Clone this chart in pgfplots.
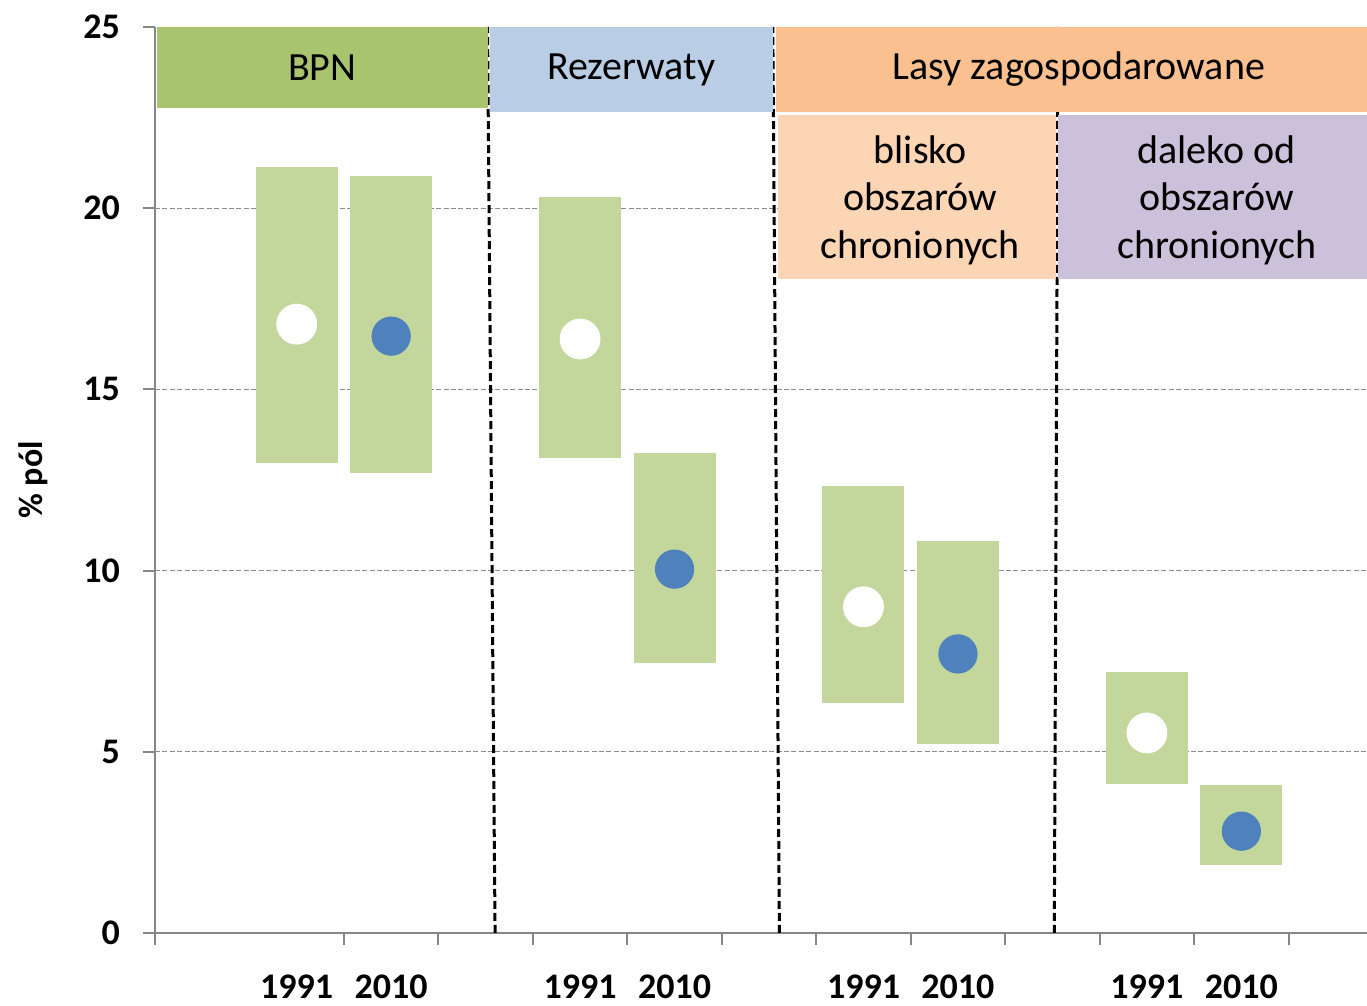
\documentclass[border=0pt]{standalone}
\usepackage{fontspec}
\setmainfont{Carlito}
\usepackage{pgfplots}
\pgfplotsset{compat=1.18}
\usepackage{pgfplotstable}

\definecolor{axgray}{HTML}{868686}
\definecolor{gridgray}{HTML}{8C8C8C}
\definecolor{bpngreen}{HTML}{A9C46F}
\definecolor{rezblue}{HTML}{B9CDE5}
\definecolor{lasorange}{HTML}{FAC08F}
\definecolor{blisko}{HTML}{FCD5B5}
\definecolor{daleko}{HTML}{CCC1DA}
\definecolor{boxgreen}{HTML}{C3D69B}
\definecolor{dotblue}{HTML}{4F81BD}

% 1991: x, mean, range low/high
\pgfplotstableread{
x mid lo hi
1.5 16.80 12.97 21.14
4.5 16.39 13.11 20.31
7.5 9.00 6.35 12.33
10.5 5.52 4.11 7.20
}\tabA
% 2010
\pgfplotstableread{
x mid lo hi
2.5 16.47 12.69 20.89
5.5 10.04 7.45 13.25
8.5 7.70 5.22 10.82
11.5 2.81 1.88 4.08
}\tabB

\newcommand{\hdr}{\fontsize{20}{23.75}\selectfont}

\begin{document}
\begin{tikzpicture}
\begin{axis}[
    at={(0,0)}, anchor=south west,
    width=606pt, height=453pt, scale only axis,
    xmin=0, xmax=12.83, ymin=0, ymax=25,
    axis lines*=left,
    axis line style={axgray, line width=1pt},
    tick style={axgray, line width=1pt},
    tick align=outside,
    major tick length=6pt,
    xtick={0,2,3,4,5,6,7,8,9,10,11,12},
    xticklabels={},
    extra x ticks={1.5,2.5,4.5,5.5,7.5,8.5,10.5,11.5},
    extra x tick labels={1991,2010,1991,2010,1991,2010,1991,2010},
    extra x tick style={
        major tick length=0pt,
        tick style={draw=none},
        grid=none,
        xticklabel style={font=\fontsize{18}{20}\selectfont\bfseries, yshift=-17.5pt}
    },
    ytick={0,5,10,15,20,25},
    yticklabel style={font=\fontsize{18}{20}\selectfont\bfseries, xshift=-8pt},
    extra y ticks={5,10,15,20},
    extra y tick labels={},
    extra y tick style={grid=major},
    /pgf/number format/assume math mode=true,
    grid style={gridgray, line width=0.6pt, dash pattern=on 2.5pt off 1.2pt},
    ylabel={\% pól},
    every axis y label/.style={at={(axis description cs:0,0.5)}, xshift=-61pt,
        rotate=90, anchor=center, font=\fontsize{17}{20}\selectfont\bfseries},
]
% separators
\addplot[black, line width=1.5pt, dash pattern=on 4pt off 2pt, forget plot] coordinates {(3.60,0) (3.52,25)};
\addplot[black, line width=1.5pt, dash pattern=on 4pt off 2pt, forget plot] coordinates {(6.61,0) (6.54,25)};
\addplot[black, line width=1.5pt, dash pattern=on 4pt off 2pt, forget plot] coordinates {(9.52,0) (9.56,25)};

% headers
\fill[bpngreen] (axis cs:0.02,22.76) rectangle (axis cs:3.52,25);
\fill[rezblue] (axis cs:3.55,22.65) rectangle (axis cs:6.54,25);
\fill[lasorange] (axis cs:6.57,22.65) rectangle (axis cs:12.83,25);
\fill[blisko] (axis cs:6.59,18.05) rectangle (axis cs:9.54,22.57);
\fill[daleko] (axis cs:9.56,18.05) rectangle (axis cs:12.83,22.57);
\node[font=\hdr] at (axis cs:1.77,23.88) {BPN};
\node[font=\hdr] at (axis cs:5.04,23.83) {Rezerwaty};
\node[font=\hdr] at (axis cs:9.78,23.83) {Lasy zagospodarowane};
\node[font=\hdr, align=center] at (axis cs:8.10,20.22) {blisko\\obszarów\\chronionych};
\node[font=\hdr, align=center] at (axis cs:11.24,20.22) {daleko od\\obszarów\\chronionych};

% ranges
\addplot[only marks, mark=none, forget plot,
    error bars/.cd, y dir=both, y explicit, error mark=none,
    error bar style={boxgreen, line width=41pt}]
    table[x=x, y=mid, y error plus expr=\thisrow{hi}-\thisrow{mid},
          y error minus expr=\thisrow{mid}-\thisrow{lo}] {\tabA};
\addplot[only marks, mark=none, forget plot,
    error bars/.cd, y dir=both, y explicit, error mark=none,
    error bar style={boxgreen, line width=41pt}]
    table[x=x, y=mid, y error plus expr=\thisrow{hi}-\thisrow{mid},
          y error minus expr=\thisrow{mid}-\thisrow{lo}] {\tabB};

% means
\addplot[only marks, mark=*, mark size=10pt, white, mark options={draw=white, fill=white}] table[x=x, y=mid] {\tabA};
\addplot[only marks, mark=*, mark size=9.6pt, dotblue, mark options={draw=dotblue, fill=dotblue}] table[x=x, y=mid] {\tabB};
\end{axis}
\pgfresetboundingbox
\path (-77.5pt,-36.5pt) rectangle (606pt,466.5pt);
\end{tikzpicture}
\end{document}
